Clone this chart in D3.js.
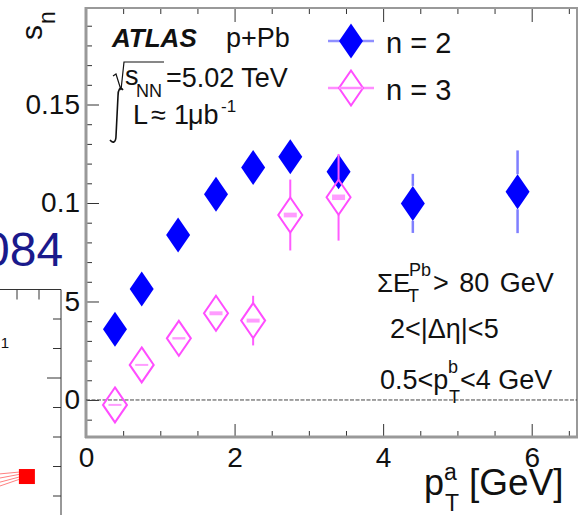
<!DOCTYPE html>
<html>
<head>
<meta charset="utf-8">
<script src="https://cdn.jsdelivr.net/npm/d3@7"></script>
<style>
  body { margin: 0; background: #fff; }
  svg { display: block; font-family: "Liberation Sans", Arial, Helvetica, sans-serif; }
</style>
</head>
<body>
<svg id="chart" width="582" height="515"></svg>
<script>
// s_n vs pT^a, ATLAS p+Pb, sumET^Pb > 80 GeV

// n = 2 (filled blue diamonds)
var ptA2 = [0.39, 0.75, 1.24, 1.75, 2.25, 2.75, 3.40, 4.40, 5.81];
var sn2  = [0.0359, 0.0563, 0.0838, 0.1044, 0.1180, 0.1235, 0.1159, 0.0998, 0.1057];
var err2 = [0.002, 0.002, 0.002, 0.003, 0.003, 0.004, 0.008, 0.015, 0.021];

// n = 3 (open magenta diamonds)
var ptA3 = [0.39, 0.75, 1.25, 1.75, 2.25, 2.75, 3.40];
var sn3  = [-0.0025, 0.0178, 0.0313, 0.0440, 0.0403, 0.0939, 0.1029];
var err3 = [0.003, 0.004, 0.005, 0.006, 0.0126, 0.018, 0.022];
var sys3 = [0.0004, 0.0005, 0.0006, 0.0010, 0.0010, 0.0012, 0.0014];

var xMajor = [0, 2, 4, 6];
var yMajor = [0, 0.05, 0.1, 0.15];
var yLabels = ["0", "0.05", "0.1", "0.15"];

// bits of the neighbouring figure that show at the left edge
var fragTicksY = [0, 1, 2, 3, 4, 5, 6];
var fragTicksX = [1, 2];
var fragPoint = {x: 1.45, y: 0.66};
var fragLinesLeft  = [0.75, 0.61, 0.47, 0.34];
var fragLinesRight = [0.81, 0.73, 0.64, 0.56];

var svg = d3.select("#chart");
svg.append("rect").attr("width", 582).attr("height", 515).attr("fill", "#fff");

var x = d3.scaleLinear().domain([0, 6.61]).range([86, 577]);
var y = d3.scaleLinear().domain([-0.0188, 0.199]).range([437, 8]);

var g = svg.append("g");

// ticks
var minorX = d3.range(0.5, 6.6, 0.5).filter(function (v) { return v % 2 !== 0; });
var minorY = d3.range(-0.01, 0.2, 0.01).filter(function (v) { return Math.abs(v * 20 - Math.round(v * 20)) > 0.01; });

function styleAxis(sel, fs) {
  sel.select(".domain").remove();
  sel.selectAll(".tick line").attr("stroke", "#333").attr("stroke-width", 1);
  sel.selectAll(".tick text").attr("font-size", fs).attr("fill", "#111")
    .attr("font-family", "Liberation Sans, Arial, sans-serif");
}

g.append("g").attr("transform", "translate(0,437)")
  .call(d3.axisBottom(x).tickValues(xMajor).tickSize(-13).tickPadding(10).tickFormat(d3.format("d")))
  .call(styleAxis, 28);
g.append("g").attr("transform", "translate(0,437)")
  .call(d3.axisBottom(x).tickValues(minorX).tickSize(-6).tickFormat(""))
  .call(styleAxis, 1);
g.append("g").attr("transform", "translate(0,8)")
  .call(d3.axisTop(x).tickValues(xMajor).tickSize(-14).tickFormat(""))
  .call(styleAxis, 1);
g.append("g").attr("transform", "translate(0,8)")
  .call(d3.axisTop(x).tickValues(minorX).tickSize(-6).tickFormat(""))
  .call(styleAxis, 1);
g.append("g").attr("transform", "translate(86,0)")
  .call(d3.axisLeft(y).tickValues(yMajor).tickSize(-13).tickPadding(6)
    .tickFormat(function (d, i) { return yLabels[i]; }))
  .call(styleAxis, 28);
g.append("g").attr("transform", "translate(86,0)")
  .call(d3.axisLeft(y).tickValues(minorY).tickSize(-6).tickFormat(""))
  .call(styleAxis, 1);

// frame
g.append("line").attr("x1", 86).attr("x2", 86).attr("y1", 7).attr("y2", 438)
  .attr("stroke", "#999").attr("stroke-width", 3);
g.append("line").attr("x1", 85).attr("x2", 578).attr("y1", 437).attr("y2", 437)
  .attr("stroke", "#999").attr("stroke-width", 3);
g.append("line").attr("x1", 86).attr("x2", 578).attr("y1", 8).attr("y2", 8)
  .attr("stroke", "#999").attr("stroke-width", 2);
g.append("line").attr("x1", 577).attr("x2", 577).attr("y1", 8).attr("y2", 437)
  .attr("stroke", "#999").attr("stroke-width", 2);

// zero line
g.append("line").attr("x1", x(0)).attr("x2", x(6.61)).attr("y1", y(0)).attr("y2", y(0))
  .attr("stroke", "#444").attr("stroke-width", 1).attr("stroke-dasharray", "4,1.5");

var hw = 12, hh = 17.5;
function diamond(cx, cy) {
  return "M" + cx + "," + (cy - hh) + "L" + (cx + hw) + "," + cy + "L" + cx + "," + (cy + hh) + "L" + (cx - hw) + "," + cy + "Z";
}
function errBars(layer, xs, vs, es, col, w) {
  xs.forEach(function (xv, i) {
    var cx = x(xv), cy = y(vs[i]), top = y(vs[i] + es[i]), bot = y(vs[i] - es[i]);
    if (top < cy - hh) layer.append("line").attr("x1", cx).attr("x2", cx).attr("y1", top).attr("y2", cy - hh)
      .attr("stroke", col).attr("stroke-width", w);
    if (bot > cy + hh) layer.append("line").attr("x1", cx).attr("x2", cx).attr("y1", cy + hh).attr("y2", bot)
      .attr("stroke", col).attr("stroke-width", w);
  });
}

// n = 2
var s2 = g.append("g");
errBars(s2, ptA2, sn2, err2, "#7f7fff", 2.5);
s2.selectAll("path").data(ptA2).enter().append("path")
  .attr("d", function (d, i) { return diamond(x(d), y(sn2[i])); })
  .attr("fill", "#0000ff");

// n = 3
var s3 = g.append("g");
errBars(s3, ptA3, sn3, err3, "#ff5cff", 2);
s3.selectAll("rect").data(ptA3).enter().append("rect")
  .attr("x", function (d) { return x(d) - 6.5; })
  .attr("width", 13)
  .attr("y", function (d, i) { return Math.min(y(sn3[i] + sys3[i]), y(sn3[i]) - 1); })
  .attr("height", function (d, i) { return Math.max(y(sn3[i] - sys3[i]) - y(sn3[i] + sys3[i]), 2); })
  .attr("fill", "#ff9cff");
s3.selectAll("path").data(ptA3).enter().append("path")
  .attr("d", function (d, i) { return diamond(x(d), y(sn3[i])); })
  .attr("fill", "none").attr("stroke", "#ff4dff").attr("stroke-width", 2);

// legend
var leg = g.append("g");
leg.append("line").attr("x1", 328).attr("x2", 374).attr("y1", 41).attr("y2", 41)
  .attr("stroke", "#8f8fff").attr("stroke-width", 2.5);
leg.append("path").attr("d", diamond(351, 41)).attr("fill", "#0000ff");
leg.append("line").attr("x1", 328).attr("x2", 374).attr("y1", 88).attr("y2", 88)
  .attr("stroke", "#ff8cff").attr("stroke-width", 2.5);
leg.append("path").attr("d", diamond(351, 88)).attr("fill", "#fff").attr("stroke", "#ff4dff").attr("stroke-width", 2);
leg.append("line").attr("x1", 339).attr("x2", 363).attr("y1", 88).attr("y2", 88)
  .attr("stroke", "#ff8cff").attr("stroke-width", 2.5);
leg.append("text").attr("x", 386).attr("y", 53).attr("font-size", 29).attr("fill", "#111")
  .attr("xml:space", "preserve").text("n = 2");
leg.append("text").attr("x", 386).attr("y", 100).attr("font-size", 29).attr("fill", "#111")
  .attr("xml:space", "preserve").text("n = 3");

// text helper
function txt(px, py, s, fs, extra) {
  var t = g.append("text").attr("x", px).attr("y", py).attr("font-size", fs).attr("fill", "#111").text(s);
  if (extra) extra(t);
  return t;
}

txt(112, 47, "ATLAS", 26, function (t) { t.attr("font-weight", "bold").attr("font-style", "italic"); });
txt(226, 47, "p+Pb", 27);

// sqrt(s_NN)
g.append("path").attr("d", "M113,76 L116,74 L121,90 L124,62 L164,62")
  .attr("fill", "none").attr("stroke", "#111").attr("stroke-width", 1.2);
txt(125, 85, "s", 27);
txt(136, 97, "NN", 18);
txt(166, 87, "=5.02 TeV", 27);
// integral L
g.append("path").attr("d", "M123,90 C120,86 118,90 118,96 L116,136 C116,142 113,144 110,140")
  .attr("fill", "none").attr("stroke", "#111").attr("stroke-width", 1.6);
txt(133, 124, "L", 27);
txt(151, 124, "\u2248", 27);
txt(174, 124, "1", 27);
txt(188, 124, "\u03bcb", 27);
txt(221, 112, "-1", 17);

// cuts
txt(377, 292, "\u03a3E", 26);
txt(409, 276, "Pb", 18);
txt(408, 302, "T", 18);
txt(433, 292, "> 80 GeV", 27, function (t) { t.attr("word-spacing", 3); });
txt(390, 338, "2<|\u0394\u03b7|<5", 27);
txt(380, 389, "0.5<p", 27);
txt(448, 373, "b", 18);
txt(449, 403, "T", 18);
txt(460, 389, "<4 GeV", 27);

// axis titles
txt(424, 495, "p", 36);
txt(444, 480, "a", 23);
txt(445, 511, "T", 23);
txt(469, 495, "[GeV]", 37);

var yt = g.append("g").attr("transform", "translate(42,40) rotate(-90)");
yt.append("text").attr("x", 0).attr("y", 0).attr("font-size", 30).attr("fill", "#111").text("s");
yt.append("text").attr("x", 16).attr("y", 13).attr("font-size", 23).attr("fill", "#111").text("n");

// neighbouring figure fragment
var fx = d3.scaleLinear().domain([0, 1]).range([-5, 17]);
var fy = d3.scaleLinear().domain([0, 4]).range([496, 378]);
var frag = svg.append("g");
frag.append("rect").attr("x", 0).attr("y", fy(7)).attr("width", fx(3) + 3).attr("height", 515 - fy(7)).attr("fill", "#fff");
frag.append("line").attr("x1", 0).attr("x2", fx(3)).attr("y1", fy(7)).attr("y2", fy(7)).attr("stroke", "#333");
frag.append("line").attr("x1", fx(3)).attr("x2", fx(3)).attr("y1", fy(7)).attr("y2", 515).attr("stroke", "#333");
frag.selectAll(".fxt").data(fragTicksX).enter().append("line")
  .attr("x1", fx).attr("x2", fx).attr("y1", fy(7)).attr("y2", fy(7) + 10).attr("stroke", "#333");
frag.selectAll(".fyt").data(fragTicksY).enter().append("line")
  .attr("x1", function (d) { return fx(3) - (d === 4 ? 14 : 8); }).attr("x2", fx(3))
  .attr("y1", fy).attr("y2", fy).attr("stroke", "#333");
frag.append("text").attr("x", 9).attr("y", 348).attr("text-anchor", "end").attr("font-size", 15).attr("fill", "#111").text("1");
fragLinesLeft.forEach(function (v, i) {
  frag.append("line").attr("x1", 0).attr("y1", fy(v))
    .attr("x2", fx(fragPoint.x) - 8).attr("y2", fy(fragLinesRight[i]))
    .attr("stroke", "#ff6060").attr("stroke-width", 0.8);
});
frag.append("rect").attr("x", fx(fragPoint.x) - 8).attr("y", fy(fragPoint.y) - 7.5)
  .attr("width", 16).attr("height", 15).attr("fill", "#ff0000");

svg.append("text").attr("x", -17).attr("y", 266).attr("font-size", 48).attr("fill", "#1a1a8c").text("084");
</script>
</body>
</html>
